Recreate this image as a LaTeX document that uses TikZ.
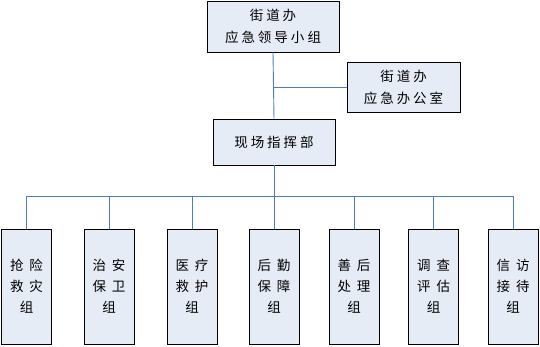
\documentclass[tikz,border=0pt]{standalone}
\usepackage{fontspec}
\newfontfamily\cjk{Noto Sans CJK SC}
\definecolor{boxfill}{HTML}{E6ECF6}
\definecolor{linkblue}{HTML}{4A7CC8}
\begin{document}
\begin{tikzpicture}[x=1pt,y=-1pt,
  box/.style={draw=black,line width=0.9pt,fill=boxfill,inner sep=0pt,align=center,
    font=\fontsize{13.5}{22}\selectfont\cjk},
  smallbox/.style={box,minimum width=50pt,minimum height=115pt,font=\fontsize{13.5}{21}\selectfont\cjk},
  link/.style={draw=linkblue,line width=0.9pt}]
\useasboundingbox (0,0) rectangle (540,346);
\node[box,minimum width=132pt,minimum height=51pt] (top) at (273,26.5) {街\hspace{3pt}道\hspace{3pt}办\\应\hspace{3pt}急\hspace{3pt}领\hspace{3pt}导\hspace{3pt}小\hspace{3pt}组};
\node[box,minimum width=113pt,minimum height=50pt] (office) at (403.5,87) {街\hspace{3pt}道\hspace{3pt}办\\应\hspace{3pt}急\hspace{3pt}办\hspace{3pt}公\hspace{3pt}室};
\node[box,minimum width=122pt,minimum height=46pt] (cmd) at (274,142) {现\hspace{3pt}场\hspace{3pt}指\hspace{3pt}挥\hspace{3pt}部};
\node[smallbox] (b1) at (26.5,286.5) {抢\hspace{6pt}险\\救\hspace{6pt}灾\\组};
\node[smallbox] (b2) at (109,286.5) {治\hspace{6pt}安\\保\hspace{6pt}卫\\组};
\node[smallbox] (b3) at (192,286.5) {医\hspace{6pt}疗\\救\hspace{6pt}护\\组};
\node[smallbox] (b4) at (274,286.5) {后\hspace{6pt}勤\\保\hspace{6pt}障\\组};
\node[smallbox] (b5) at (354,286.5) {善\hspace{6pt}后\\处\hspace{6pt}理\\组};
\node[smallbox] (b6) at (433.5,286.5) {调\hspace{6pt}查\\评\hspace{6pt}估\\组};
\node[smallbox] (b7) at (513,286.5) {信\hspace{6pt}访\\接\hspace{6pt}待\\组};
\coordinate (bus) at (274,196);
\path[link] (top.south) -- (cmd.north);
\path[link] (office.west) -- (office.west -| top.south);
\path[link] (cmd.south) -- (bus);
\path[link] (b1.north |- bus) -- (b7.north |- bus);
\foreach \b in {b1,b2,b3,b4,b5,b6,b7}
  \path[link] (\b.north) -- (\b.north |- bus);
\end{tikzpicture}
\end{document}
